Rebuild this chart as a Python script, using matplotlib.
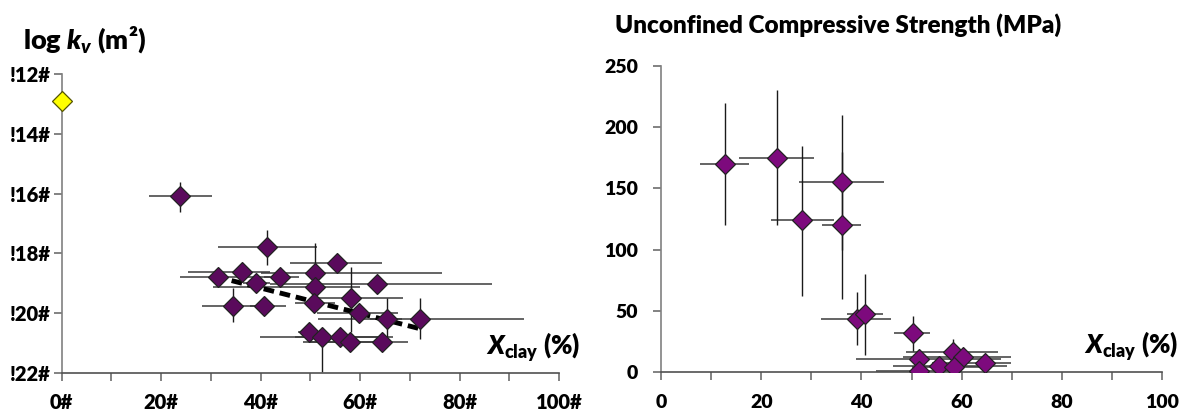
import numpy as np
import matplotlib
matplotlib.use("Agg")
import matplotlib.pyplot as plt

FW = 'heavy'
plt.rcParams['font.family'] = ['Lato', 'DejaVu Sans']
plt.rcParams['font.weight'] = FW
plt.rcParams['mathtext.fontset'] = 'custom'
plt.rcParams['mathtext.rm'] = 'Lato:heavy'
plt.rcParams['mathtext.it'] = 'Lato:italic:heavy'
plt.rcParams['mathtext.bf'] = 'Lato:heavy'

# ---------------- Left panel data: log kv vs clay fraction ----------------
kv_x    = [23.8, 41.4, 55.3, 31.5, 36.2, 43.9, 39.1, 51.0, 51.0, 63.4, 58.1,
           34.5, 40.7, 50.8, 59.8, 65.4, 72.1, 49.8, 52.3, 56.0, 58.0, 64.5]
kv_y    = [-16.07, -17.78, -18.33, -18.80, -18.61, -18.80, -19.00, -18.67, -19.11, -19.03, -19.48,
           -19.75, -19.75, -19.67, -20.00, -20.20, -20.20, -20.62, -20.81, -20.81, -20.95, -20.97]
kv_xlo  = [17.5, 31.5, 45.9, 23.8, 25.5, 40.8, 36.5, 40.0, 30.4, 42.0, 50.6,
           28.2, 37.9, 47.0, 51.3, 62.0, 51.5, 47.5, 39.9, 47.0, 50.0, 48.6]
kv_xhi  = [30.2, 51.3, 64.4, 42.0, 42.0, 47.7, 42.0, 76.5, 60.0, 86.5, 68.7,
           40.2, 45.2, 55.0, 67.7, 68.5, 92.9, 52.5, 66.7, 64.0, 63.0, 69.7]
kv_ylo  = [-16.60, -18.39, -18.55, -19.00, -18.85, -19.00, -19.30, -19.70, -19.30, -19.20, -20.62,
           -20.28, -20.05, -19.90, -20.20, -20.85, -20.85, -20.80, -21.96, -21.00, -21.10, -21.10]
kv_yhi  = [-15.60, -17.22, -18.15, -18.60, -18.40, -18.60, -18.80, -17.65, -18.90, -18.85, -18.44,
           -19.17, -19.45, -19.45, -19.80, -19.50, -19.50, -20.45, -20.60, -20.60, -20.75, -20.80]

kv_ref_x = [0.0]
kv_ref_y = [-12.9]

trend_x = [34.2, 72.3]
trend_y = [-18.91, -20.53]

kv_yticks = [-12, -14, -16, -18, -20, -22]
kv_yticklabels = ['!12#', '!14#', '!16#', '!18#', '!20#', '!22#']
kv_xticks = [0, 20, 40, 60, 80, 100]
kv_xticklabels = ['0#', '20#', '40#', '60#', '80#', '100#']

# ---------------- Right panel data: UCS vs clay fraction ----------------
ucs_x   = [12.7, 23.1, 28.2, 36.1, 36.1, 39.2, 40.8, 50.3, 51.4, 51.4, 55.5, 58.2, 60.3, 58.4, 64.7]
ucs_y   = [170, 175, 124.5, 155, 120, 43, 47, 31.7, 10.4, 1, 5, 16.4, 12.3, 4, 7.6]
ucs_xlo = [7.7, 15.5, 21.9, 27.6, 32.1, 31.9, 37.2, 46.6, 39.0, 43.0, 46.4, 49.0, 48.3, 50.0, 54.0]
ucs_xhi = [17.5, 30.6, 34.6, 44.6, 40.0, 46.0, 44.4, 53.6, 67.8, 60.0, 69.0, 67.3, 69.8, 65.0, 69.8]
ucs_ylo = [120, 120, 62, 100, 60, 22, 14, 17, 5, 0, 2, 6, 8, 1, 4]
ucs_yhi = [220, 230, 185, 210, 180, 65, 80, 46, 16, 3, 8, 27, 17, 7, 11]

ucs_yticks = [0, 50, 100, 150, 200, 250]
ucs_xticks = [0, 20, 40, 60, 80, 100]

# ---------------- Figure ----------------
W, H = 1179, 411
fig = plt.figure(figsize=(W / 100, H / 100), dpi=100)

def frac(x0, y0, x1, y1):
    return [x0 / W, 1 - y1 / H, (x1 - x0) / W, (y1 - y0) / H]

ax1 = fig.add_axes(frac(61.5, 74, 559, 373))
ax2 = fig.add_axes(frac(661, 66, 1162, 372))

def style_axes(ax):
    for s in ['top', 'right']:
        ax.spines[s].set_visible(False)
    ax.spines['left'].set_color('#808080')
    ax.spines['bottom'].set_color('#505050')
    ax.spines['left'].set_linewidth(1.2)
    ax.spines['bottom'].set_linewidth(1.2)
    ax.tick_params(axis='both', which='both', direction='out', length=5.5,
                   width=1.1, color='#606060')
    ax.set_xticks(np.arange(0, 101, 10), minor=True)
    ax.set_facecolor('none')

def draw_err(ax, x, y, xlo, xhi, ylo, yhi):
    x = np.array(x); y = np.array(y)
    xerr = np.vstack([x - np.array(xlo), np.array(xhi) - x])
    yerr = np.vstack([y - np.array(ylo), np.array(yhi) - y])
    ax.errorbar(x, y, xerr=xerr, fmt='none', ecolor='#3a3a3a', elinewidth=1.1,
                capsize=0, zorder=2)
    ax.errorbar(x, y, yerr=yerr, fmt='none', ecolor='#1a1a1a', elinewidth=1.0,
                capsize=0, zorder=2)

MS = 10

# Left panel
style_axes(ax1)
draw_err(ax1, kv_x, kv_y, kv_xlo, kv_xhi, kv_ylo, kv_yhi)
ax1.plot(trend_x, trend_y, color='black', lw=3.5, ls=(0, (2.2, 1.2)), zorder=3,
         solid_capstyle='butt')
ax1.plot(kv_x, kv_y, ls='none', marker='D', ms=MS, mfc='#5a0a5c', mec='#222222',
         mew=0.9, zorder=4)
ax1.plot(kv_ref_x, kv_ref_y, ls='none', marker='D', ms=MS, mfc='#ffff00', mec='#555500',
         mew=0.9, zorder=5, clip_on=False)
ax1.set_xlim(0, 100)
ax1.set_ylim(-22, -12)
ax1.set_yticks(kv_yticks)
ax1.set_yticklabels(kv_yticklabels)
ax1.set_xticks(kv_xticks)
ax1.set_xticklabels(kv_xticklabels)
ax1.tick_params(axis='y', pad=2, labelsize=14.5)
ax1.tick_params(axis='x', pad=9, labelsize=14.5)

# Right panel
style_axes(ax2)
draw_err(ax2, ucs_x, ucs_y, ucs_xlo, ucs_xhi, ucs_ylo, ucs_yhi)
ax2.plot(ucs_x, ucs_y, ls='none', marker='D', ms=MS, mfc='#7d0a7d', mec='#222222',
         mew=0.9, zorder=4)
ax2.set_xlim(0, 100)
ax2.set_ylim(0, 250)
ax2.set_yticks(ucs_yticks)
ax2.set_xticks(ucs_xticks)
ax2.tick_params(axis='y', pad=11, labelsize=14)
ax2.tick_params(axis='x', pad=10, labelsize=14)

for ax in (ax1, ax2):
    for lab in ax.get_xticklabels() + ax.get_yticklabels():
        lab.set_fontweight(FW)

# Titles and axis labels
fig.text(23 / W, 1 - 49 / H, r'log $k_v$ (m²)', fontsize=19.5, fontweight=FW,
         ha='left', va='baseline')
fig.text(615 / W, 1 - 33 / H, 'Unconfined Compressive Strength (MPa)', fontsize=17.5,
         fontweight=FW, ha='left', va='baseline')
fig.text(486 / W, 1 - 355 / H, r'$X_{\mathrm{clay}}$ (%)', fontsize=18.5,
         fontweight=FW, ha='left', va='baseline')
fig.text(1084 / W, 1 - 354 / H, r'$X_{\mathrm{clay}}$ (%)', fontsize=18.5,
         fontweight=FW, ha='left', va='baseline')

fig.savefig('out.png', dpi=100)
